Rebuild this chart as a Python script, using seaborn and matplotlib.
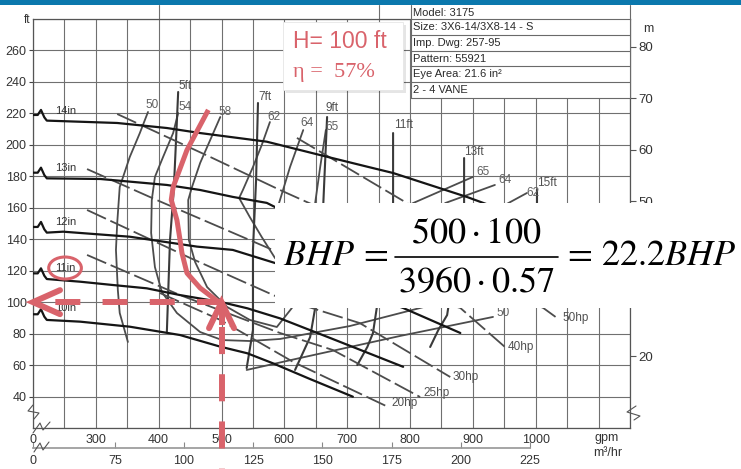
import numpy as np
import pandas as pd
import matplotlib
matplotlib.use("Agg")
import matplotlib.pyplot as plt
import seaborn as sns
from matplotlib.patches import Rectangle, Ellipse
from matplotlib.lines import Line2D

# ---------------- pump performance data (flow in gpm, head in ft) ----------------
# impeller diameter curves
imp_labels = ["14in", "13in", "12in", "11in", "10in"]
imp14_gpm = [222, 334, 413, 466, 572, 657, 732, 773, 891, 943]
imp14_ft = [215.4, 213.9, 210.7, 207.5, 202.0, 193.5, 186.1, 182.1, 166.8, 159.2]
imp13_gpm = [222, 307, 413, 466, 518, 572, 585]
imp13_ft = [178.7, 178.3, 174.5, 171.3, 166.9, 163.1, 160.5]
imp12_gpm = [222, 248, 354, 461, 518, 585, 789, 880]
imp12_ft = [144.2, 144.8, 141.6, 135.3, 133.2, 124.9, 96.3, 80.4]
imp11_gpm = [222, 275, 327, 381, 434, 500, 541, 593, 673, 789]
imp11_ft = [114.7, 113.0, 110.9, 108.8, 104.5, 100.0, 96.1, 89.7, 77.2, 58.9]
imp10_gpm = [222, 275, 354, 434, 498, 541, 582, 641, 709]
imp10_ft = [88.7, 87.6, 84.4, 79.1, 71.7, 67.5, 61.1, 51.1, 39.9]
imp_label_gpm = 235
imp_label_ft = [221.6, 185.3, 151.0, 121.7, 96.3]

# iso-efficiency contours (%), split into their visible pieces
eff50a_gpm = [351, 338, 335, 332, 334, 338, 354, 370, 383]
eff50a_ft = [74.7, 93.1, 107.7, 133.2, 150.3, 173.2, 192.3, 207.5, 220.9]
eff50b_gpm = [540, 625, 784, 932]
eff50b_ft = [56.9, 64.5, 78.5, 90.6]
eff54_gpm = [431, 423, 407, 394, 389, 388, 394, 405, 429, 466, 501, 545, 593, 704, 816, 880]
eff54_ft = [220.2, 207.5, 192.3, 179.6, 164.9, 144.0, 122.3, 106.5, 93.1, 81.0, 75.9, 75.3, 76.6, 84.8, 96.3, 103.3]
eff58_gpm = [498, 482, 466, 453, 447, 448, 458, 477, 509, 545, 588, 612]
eff58_ft = [217.7, 203.1, 188.5, 173.2, 164.9, 139.5, 125.5, 109.6, 96.9, 88.7, 84.2, 96.3]
eff62a_gpm = [577, 564, 550, 534, 528, 545, 564, 585, 609]
eff62a_ft = [214.5, 199.9, 185.9, 171.3, 166.2, 154.1, 141.4, 128.1, 117.3]
eff62b_gpm = [951, 986]
eff62b_ft = [161.8, 169.4]
eff64a_gpm = [630, 609, 593, 588]
eff64a_ft = [209.4, 185.9, 164.9, 158.6]
eff64b_gpm = [845, 856, 935]
eff64b_ft = [158.0, 163.0, 174.5]
eff65a_gpm = [666, 657, 649, 647]
eff65a_ft = [209.4, 185.9, 163.0, 158.6]
eff65b_gpm = [784, 805, 900]
eff65b_ft = [158.6, 163.0, 179.6]
eff_text = ["50", "54", "58", "62", "64", "65", "65", "64", "62", "50"]
eff_text_gpm = [389, 442, 506, 584, 636, 676, 916, 951, 996, 948]
eff_text_ft = [225.4, 224.1, 220.9, 217.7, 213.9, 211.4, 182.7, 177.6, 169.4, 93.1]

# NPSH required lines
npsh5_gpm = [431, 428, 424, 418, 413]
npsh5_ft = [233.6, 206.3, 171.3, 139.5, 81.0]
npsh7_gpm = [558, 555, 550, 550, 540]
npsh7_ft = [226.6, 177.7, 133.2, 82.3, 58.1]
npsh9_gpm = [668, 662, 649, 641, 617]
npsh9_ft = [217.7, 163.0, 96.3, 77.8, 56.9]
npsh11_gpm = [773, 773, 747, 741, 732, 716]
npsh11_ft = [207.5, 163.0, 96.3, 80.4, 71.5, 60.0]
npsh13_gpm = [886, 886, 859, 845, 832]
npsh13_ft = [191.6, 163.0, 91.8, 82.3, 71.5]
npsh15_gpm = [1002, 1002]
npsh15_ft = [171.3, 161.8]
npsh_text = ["5ft", "7ft", "9ft", "11ft", "13ft", "15ft"]
npsh_text_gpm = [442, 569, 676, 789, 902, 1018]
npsh_text_ft = [237.4, 230.4, 223.4, 212.6, 195.5, 175.8]

# brake horsepower lines
hp50_gpm = [334, 482, 593, 1012, 1034]
hp50_ft = [219.6, 192.3, 171.3, 96.3, 89.9]
hp40_gpm = [286, 397, 593, 880, 951]
hp40_ft = [184.6, 164.9, 131.2, 96.3, 71.5]
hp30_gpm = [286, 450, 593, 720, 864]
hp30_ft = [158.6, 128.1, 102.6, 86.7, 52.4]
hp25_gpm = [286, 434, 593, 677, 816]
hp25_ft = [130.0, 104.5, 80.4, 69.6, 39.7]
hp20_gpm = [402, 498, 614, 765]
hp20_ft = [105.8, 88.7, 62.0, 33.4]
hp60_gpm = [620, 795, 815]
hp60_ft = [204.4, 163.0, 157.5]
hp_text = ["20hp", "25hp", "30hp", "40hp", "50hp"]
hp_text_gpm = [771, 821, 868, 956, 1042]
hp_text_ft = [35.9, 42.2, 52.4, 71.5, 89.9]

# operating point and interpolated 57 % efficiency line
duty_gpm = 500
duty_ft = 100
duty_eff = 0.57
eff57_gpm = [479, 445, 423, 420, 429, 434, 437, 445, 466, 487, 496]
eff57_ft = [222.2, 196.7, 173.2, 165.0, 152.2, 139.5, 131.3, 118.5, 109.0, 102.6, 100.1]

# axis ticks
gpm_ticks = [200, 300, 400, 500, 600, 700, 800, 900, 1000]
gpm_ticklabels = ["0", "300", "400", "500", "600", "700", "800", "900", "1000"]
ft_ticks = [40, 60, 80, 100, 120, 140, 160, 180, 200, 220, 240, 260]
m_ticks = [20, 50, 60, 70, 80]
m3h_ticks = [0, 75, 100, 125, 150, 175, 200, 225]
GPM_PER_M3H = 4.4029
FT_PER_M = 3.28084

table_rows = ["Model: 3175", "Size: 3X6-14/3X8-14 - S", "Imp. Dwg: 257-95",
              "Pattern: 55921", "Eye Area: 21.6 in\u00b2", "2 - 4 VANE"]

# ---------------- styling ----------------
sns.set_theme(style="white")
plt.rcParams["font.family"] = ["Liberation Sans", "DejaVu Sans"]
plt.rcParams["mathtext.fontset"] = "stix"
plt.rcParams["lines.scale_dashes"] = False

RED = "#d9636b"
GRID = "#707070"
INK = "#333333"
CURVE = "#4c4c4c"

W, H = 741, 469
fig = plt.figure(figsize=(W / 100, H / 100), dpi=100)
fig.patch.set_facecolor("white")


def fx(px):
    return px / W


def fy(py):
    return 1 - py / H


AX_L, AX_R, AX_T, AX_B = 33, 630, 19, 428
ax = fig.add_axes([fx(AX_L), fy(AX_B), (AX_R - AX_L) / W, (AX_B - AX_T) / H])
XMIN, XMAX, YMIN, YMAX = 200, 1150, 20, 280
gpm_per_px = (XMAX - XMIN) / (AX_R - AX_L)
ft_per_px = (YMAX - YMIN) / (AX_B - AX_T)

# small break glyph drawn at the start of every impeller curve
BREAK_DG = [-22, -14.5, -9.3, -4]
BREAK_DF = [3.6, 3.6, 6.8, 2.1]

imp_gpm = [imp14_gpm, imp13_gpm, imp12_gpm, imp11_gpm, imp10_gpm]
imp_ft = [imp14_ft, imp13_ft, imp12_ft, imp11_ft, imp10_ft]
rows = []
for name, g, f in zip(imp_labels, imp_gpm, imp_ft):
    gg = [g[0] + d for d in BREAK_DG] + list(g)
    ff = [f[0] + d for d in BREAK_DF] + list(f)
    for a, b in zip(gg, ff):
        rows.append({"curve": name, "gpm": a, "ft": b})
imp_df = pd.DataFrame(rows)
sns.lineplot(data=imp_df, x="gpm", y="ft", units="curve", estimator=None,
             sort=False, color="#151515", lw=1.6, ax=ax, zorder=4)

eff_pieces = [(eff50a_gpm, eff50a_ft), (eff50b_gpm, eff50b_ft), (eff54_gpm, eff54_ft),
              (eff58_gpm, eff58_ft), (eff62a_gpm, eff62a_ft), (eff62b_gpm, eff62b_ft),
              (eff64a_gpm, eff64a_ft), (eff64b_gpm, eff64b_ft), (eff65a_gpm, eff65a_ft),
              (eff65b_gpm, eff65b_ft)]
rows = []
for i, (g, f) in enumerate(eff_pieces):
    for a, b in zip(g, f):
        rows.append({"piece": i, "gpm": a, "ft": b})
eff_df = pd.DataFrame(rows)
sns.lineplot(data=eff_df, x="gpm", y="ft", units="piece", estimator=None,
             sort=False, color=CURVE, lw=1.3, ax=ax, zorder=3)

for g, f in [(npsh5_gpm, npsh5_ft), (npsh7_gpm, npsh7_ft), (npsh9_gpm, npsh9_ft),
             (npsh11_gpm, npsh11_ft), (npsh13_gpm, npsh13_ft), (npsh15_gpm, npsh15_ft)]:
    ax.plot(g, f, color="#3a3a3a", lw=1.5, zorder=3)

for g, f in [(hp50_gpm, hp50_ft), (hp40_gpm, hp40_ft), (hp30_gpm, hp30_ft),
             (hp25_gpm, hp25_ft), (hp20_gpm, hp20_ft), (hp60_gpm, hp60_ft)]:
    ax.plot(g, f, color=CURVE, lw=1.3, dashes=(15, 3.5), zorder=3)

for t, f in zip(imp_labels, imp_label_ft):
    ax.text(imp_label_gpm, f, t, fontsize=8, color=INK, ha="left", va="center", zorder=5)
for t, g, f in zip(eff_text, eff_text_gpm, eff_text_ft):
    ax.text(g, f, t, fontsize=8.5, color="#606060", ha="center", va="center", zorder=5)
for t, g, f in zip(npsh_text, npsh_text_gpm, npsh_text_ft):
    ax.text(g, f, t, fontsize=8.5, color="#505050", ha="center", va="center", zorder=5)
for t, g, f in zip(hp_text, hp_text_gpm, hp_text_ft):
    ax.text(g, f, t, fontsize=8.5, color="#505050", ha="left", va="center", zorder=5)

# ---------------- axes, grid and ticks ----------------
ax.set_xlim(XMIN, XMAX)
ax.set_ylim(YMIN, YMAX)
ax.set_xlabel("")
ax.set_ylabel("")
ax.set_xticks(gpm_ticks)
ax.set_xticklabels(gpm_ticklabels)
ax.set_xticks(np.arange(XMIN, XMAX + 1, 50), minor=True)
ax.set_yticks(ft_ticks)
ax.set_yticks(np.arange(YMIN, YMAX + 1, 20), minor=True)
ax.grid(which="both", color=GRID, lw=0.8)
ax.set_axisbelow(True)
for s in ax.spines.values():
    s.set_color("#555555")
    s.set_linewidth(0.9)
ax.tick_params(axis="x", which="both", length=0, pad=4, labelsize=9, labelcolor=INK)
ax.tick_params(axis="y", which="major", length=3, width=0.8, color="#444444",
               pad=1.5, labelsize=9, labelcolor=INK, left=True)
ax.tick_params(axis="y", which="minor", length=0)
for xv in (400, 750):
    ax.plot([xv, xv], [YMAX, YMAX + 9], color=GRID, lw=0.8, clip_on=False, zorder=1)

ax2 = ax.twinx()
ax2.set_ylim(YMIN / FT_PER_M, YMAX / FT_PER_M)
ax2.set_yticks(m_ticks)
ax2.grid(False)
for s in ax2.spines.values():
    s.set_visible(False)
ax2.tick_params(axis="y", length=4, width=0.8, color="#555555", pad=2,
                labelsize=9.5, labelcolor=INK, right=True)

sec = ax.secondary_xaxis(-20 / (AX_B - AX_T),
                         functions=(lambda g: g / GPM_PER_M3H, lambda m: m * GPM_PER_M3H))
sec_pos = [XMIN / GPM_PER_M3H] + m3h_ticks[1:]
sec.set_xticks(sec_pos)
sec.set_xticklabels([str(v) for v in m3h_ticks])
sec.tick_params(direction="in", length=4, width=0.8, color="#888888", pad=5,
                labelsize=9, labelcolor=INK)
sec.spines["bottom"].set_color("#9a9a9a")
sec.spines["bottom"].set_bounds(sec_pos[0], sec_pos[-1])

# ---------------- operating point overlay ----------------
ax.plot(eff57_gpm, eff57_ft, color=RED, lw=3.6, solid_capstyle="butt", zorder=6)
ax.plot([duty_gpm, XMIN], [duty_ft, duty_ft], color=RED, lw=4.3,
        dashes=(18, 16), dash_capstyle="butt", zorder=7, clip_on=False)
ax.plot([XMIN + 27 * gpm_per_px, XMIN, XMIN + 27 * gpm_per_px],
        [duty_ft + 12 * ft_per_px, duty_ft, duty_ft - 12 * ft_per_px],
        color=RED, lw=4.3, solid_capstyle="round", solid_joinstyle="miter",
        zorder=7, clip_on=False)
shaft_end = duty_ft - 23 * ft_per_px
ax.plot([duty_gpm, duty_gpm], [duty_ft, shaft_end], color=RED, lw=4.3,
        solid_capstyle="butt", zorder=7)
ax.plot([duty_gpm, duty_gpm], [shaft_end - 2 * ft_per_px, YMIN - 70 * ft_per_px],
        color=RED, lw=4.3, dashes=(19.5, 14.5), dash_capstyle="butt",
        zorder=7, clip_on=False)
ax.plot([duty_gpm - 12.5 * gpm_per_px, duty_gpm, duty_gpm + 12.5 * gpm_per_px],
        [duty_ft - 26 * ft_per_px, duty_ft, duty_ft - 26 * ft_per_px],
        color=RED, lw=4.3, solid_capstyle="round", solid_joinstyle="miter", zorder=7)
ax.add_patch(Ellipse((imp_label_gpm + 16, imp_label_ft[3]), width=52, height=14,
                     fill=False, ec=RED, lw=2.2, zorder=7))

# ---------------- figure-level decorations ----------------
def fig_line(pts, **kw):
    xs = [fx(p[0]) for p in pts]
    ys = [fy(p[1]) for p in pts]
    fig.add_artist(Line2D(xs, ys, transform=fig.transFigure, **kw))


brk = dict(color="#555555", lw=0.8)
fig_line([(33, 405), (28, 411), (39, 413), (34, 419)], **brk)
fig_line([(33, 433), (40, 423), (43, 430), (50, 422)], **brk)
fig_line([(34, 452), (40, 443), (43, 450), (49, 442)], **brk)
fig_line([(636, 406), (627, 412), (640, 416), (634, 420)], **brk)

fig.text(fx(30), fy(20), "ft", fontsize=8.5, color=INK, ha="right", va="center")
fig.text(fx(648), fy(29), "m", fontsize=9, color=INK, ha="center", va="center")
fig.text(fx(607), fy(438), "gpm", fontsize=9, color=INK, ha="center", va="center")
fig.text(fx(608), fy(453), "m\u00b3/hr", fontsize=9, color=INK, ha="center", va="center")

# pump data table
TL, TR, TT = 411, 630, 5
row_edges = [19, 35, 51, 66, 82, 98]
fig.add_artist(Rectangle((fx(TL), fy(row_edges[-1])), (TR - TL) / W,
                         (row_edges[-1] - TT) / H, transform=fig.transFigure,
                         fc="white", ec="none", zorder=5))
tline = dict(color="#6a6a6a", lw=0.8, zorder=6)
for yy in row_edges:
    fig_line([(TL, yy), (TR, yy)], **tline)
fig_line([(TL, TT), (TL, row_edges[-1])], **tline)
fig_line([(TR, TT), (TR, row_edges[-1])], **tline)
prev = TT + 1
for txt, yy in zip(table_rows, row_edges):
    fig.text(fx(TL + 2), fy((prev + yy) / 2), txt, fontsize=8, color="#2a2a2a",
             ha="left", va="center", zorder=6)
    prev = yy

# callout with duty point
fig.add_artist(Rectangle((fx(286), fy(93)), 120 / W, 68 / H, transform=fig.transFigure,
                         fc="#000000", alpha=0.10, ec="none", zorder=5))
fig.add_artist(Rectangle((fx(283), fy(90)), 120 / W, 68 / H, transform=fig.transFigure,
                         fc="white", ec="#e6e6e6", lw=0.6, zorder=5.1))
fig.text(fx(293), fy(42), f"H= {duty_ft} ft", fontsize=16.5, color=RED,
         ha="left", va="center", zorder=6)
fig.text(fx(293), fy(73), f"\u03b7 =  {duty_eff * 100:.0f}%", fontsize=16, color=RED,
         ha="left", va="center", family=["Liberation Serif", "DejaVu Serif"], zorder=6)

# brake horsepower formula panel, fraction laid out piece by piece
bhp = duty_gpm * duty_ft / (3960 * duty_eff)
fig.add_artist(Rectangle((fx(275), fy(308)), (W - 275) / W, (308 - 203) / H,
                         transform=fig.transFigure, fc="white", ec="none", zorder=5))
FS = 26
fig.text(fx(283), fy(255), r"$BHP\,=$", fontsize=FS, color="black",
         ha="left", va="center", zorder=6)
fig.text(fx(476), fy(232.5), r"$%d\cdot %d$" % (duty_gpm, duty_ft), fontsize=FS,
         color="black", ha="center", va="center", zorder=6)
fig_line([(395, 257), (558, 257)], color="black", lw=1.2, zorder=6)
fig.text(fx(476), fy(282.5), r"$3960\cdot %.2f$" % duty_eff, fontsize=FS,
         color="black", ha="center", va="center", zorder=6)
fig.text(fx(562), fy(255), r"$=\,%.1fBHP$" % bhp, fontsize=FS, color="black",
         ha="left", va="center", zorder=6)

# header band
fig.add_artist(Rectangle((0, fy(5)), 1, 5 / H, transform=fig.transFigure,
                         fc="#0b78ad", ec="none", zorder=8))

fig.savefig("out.png", dpi=100)
